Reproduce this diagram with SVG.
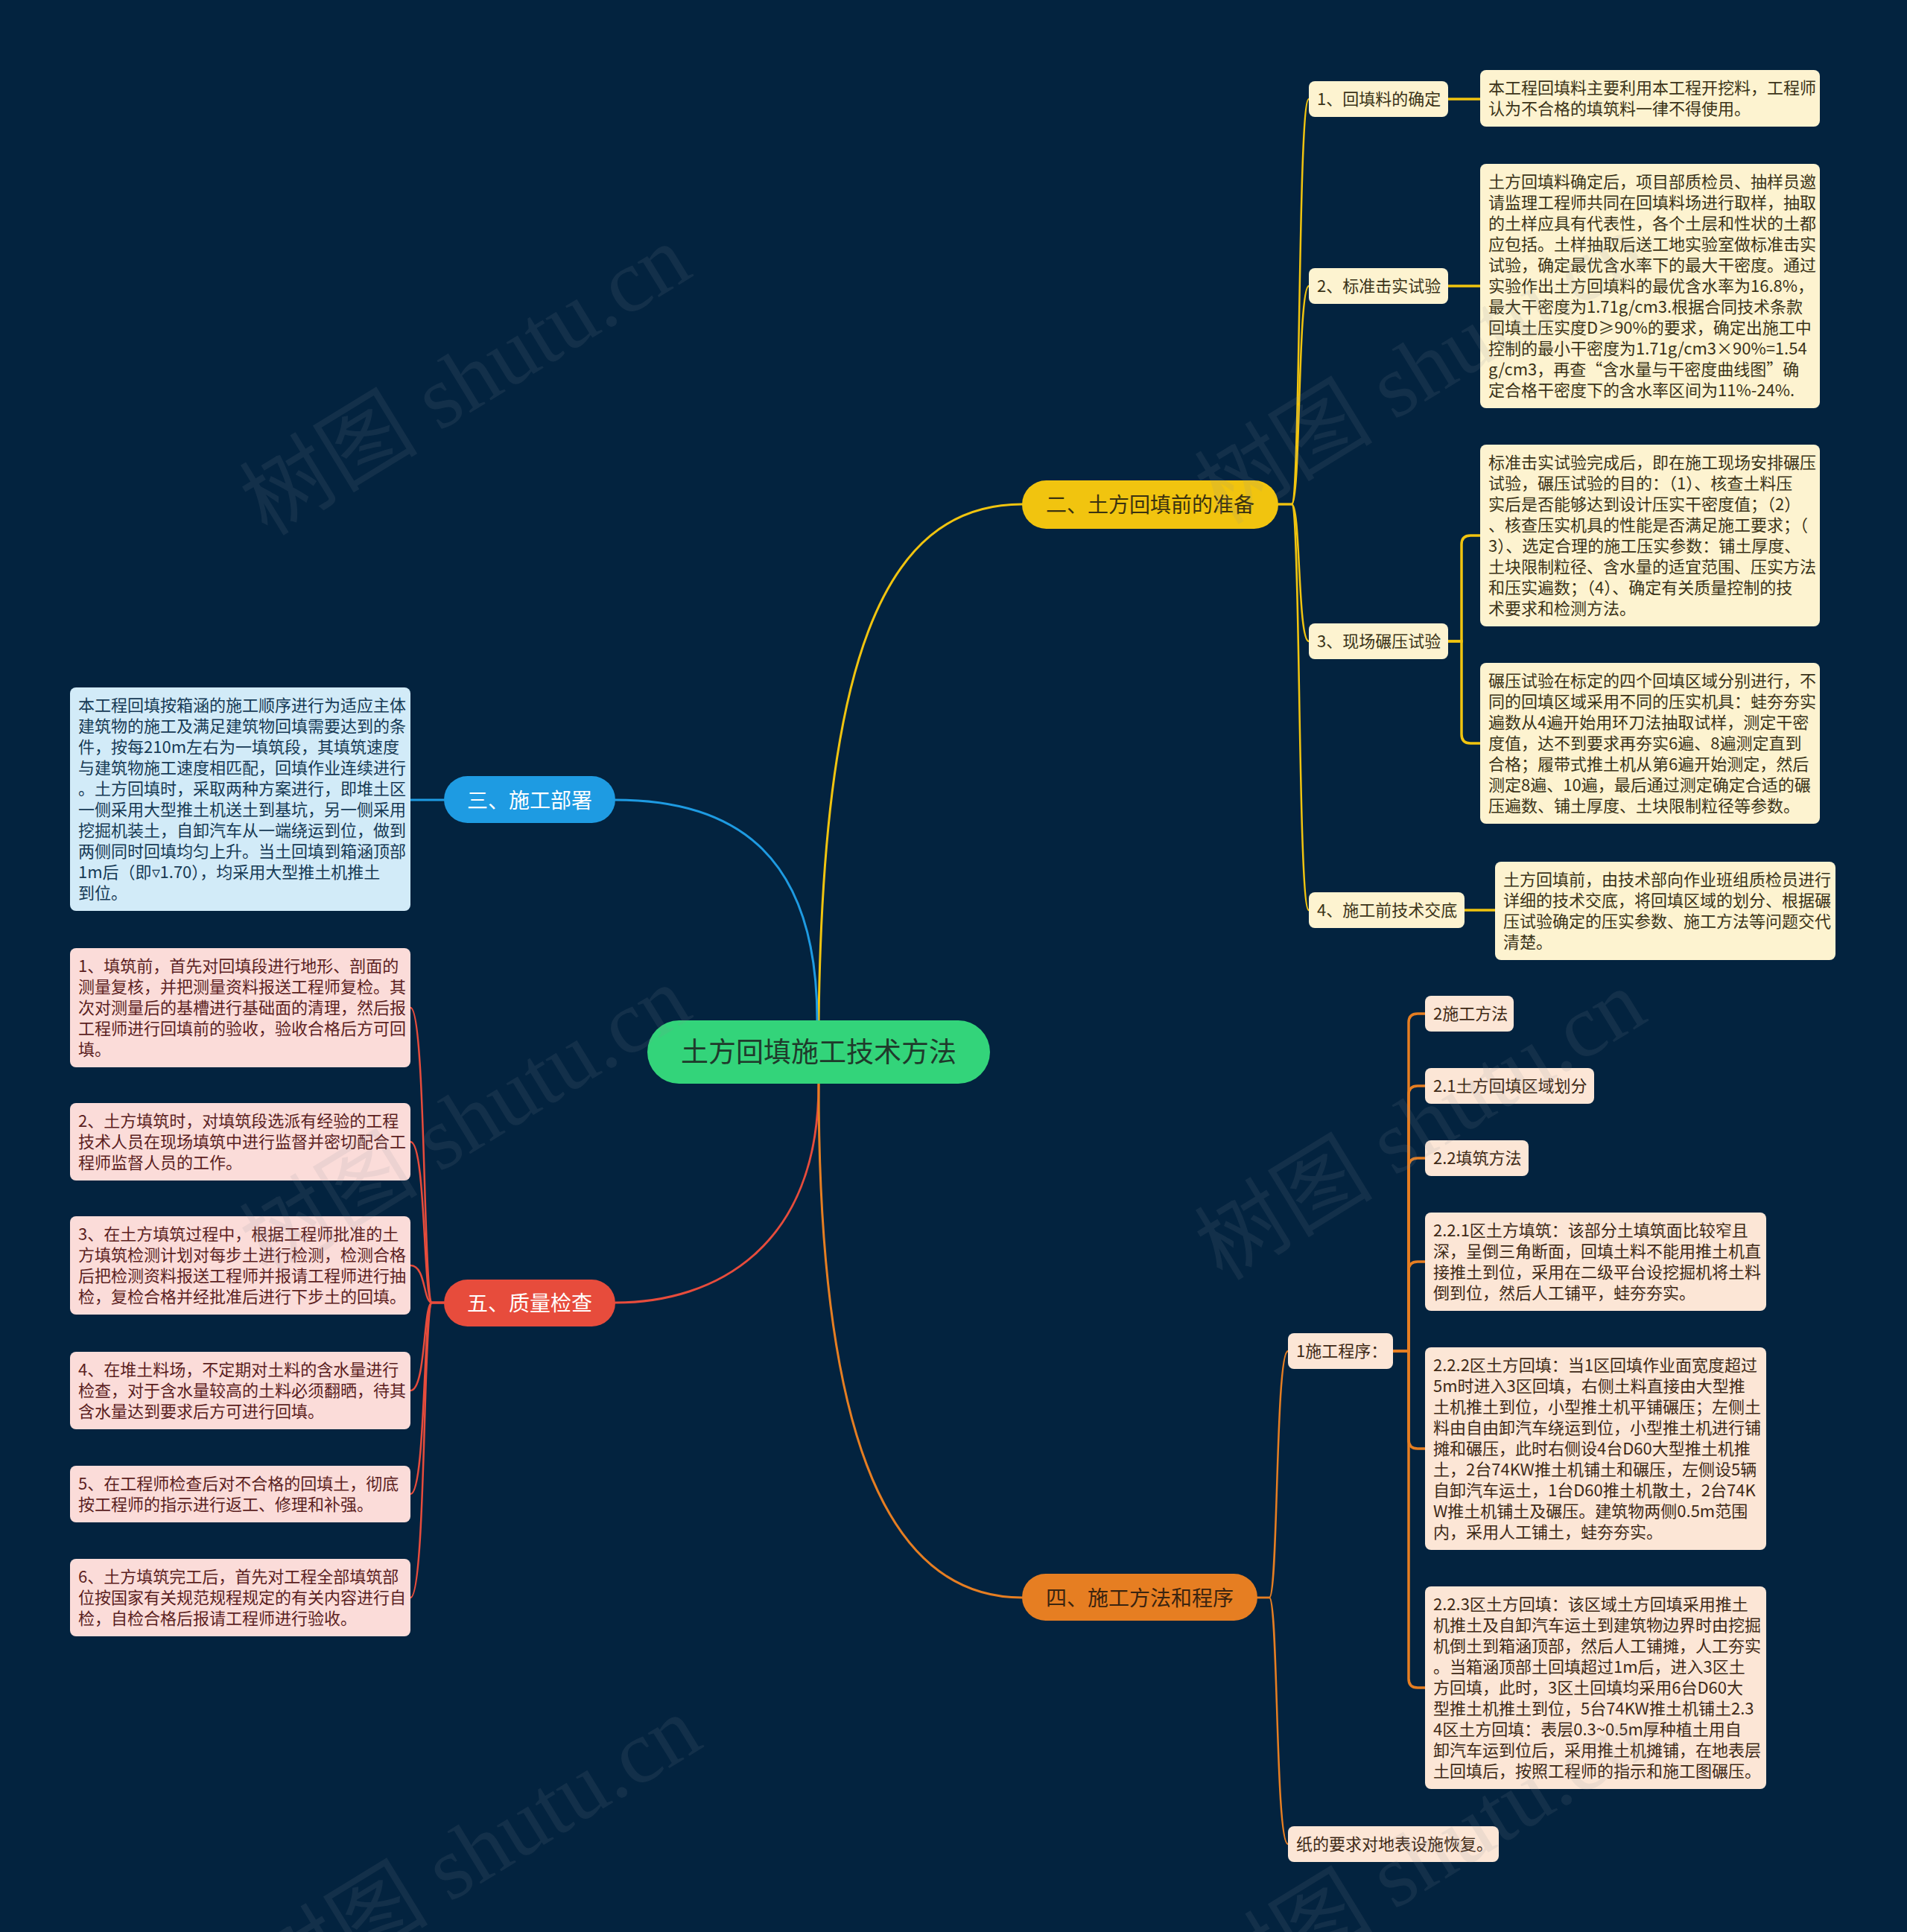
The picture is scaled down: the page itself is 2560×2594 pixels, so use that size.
<svg xmlns="http://www.w3.org/2000/svg" width="2560" height="2594" viewBox="0 0 2560 2594">
<style>
.bg{fill:#03233f}
.t{font-family:"Noto Sans CJK SC","Noto Sans",sans-serif;font-size:22px}
.pill{font-family:"Noto Sans CJK SC","Noto Sans",sans-serif;font-size:28px;text-anchor:middle}
.c{fill:none;stroke-linecap:round}
.main{stroke-width:3}
.bund{stroke-width:2.5}
.elb{stroke-width:3.5}
.y{stroke:#f1c40f}.o{stroke:#e67e22}.r{stroke:#e74c3c}.b{stroke:#1e9be2}
.by{fill:#fdf3d0}.ty{fill:#3b3318}
.bo{fill:#fce6d6}.to{fill:#3f2a17}
.br{fill:#fbdcd9}.tr{fill:#5b1f1f}
.bb{fill:#d2ebf8}.tb{fill:#163a55}
.wm{font-family:"Liberation Serif","Noto Sans CJK SC",serif;font-size:120px;fill:#8a8f99;opacity:0.12;text-anchor:middle}
</style>
<rect class="bg" x="0" y="0" width="2560" height="2594"/>

<g id="connectors">
  <path class="c main y" d="M1099 1370 C1105 900 1180 677 1372 677"/>
  <path class="c main b" d="M826 1074 C990 1074 1097 1150 1097 1370"/>
  <path class="c main r" d="M826 1749 C960 1749 1099 1675 1099 1455"/>
  <path class="c main o" d="M1099 1455 C1099 1900 1180 2145 1372 2145"/>

  <path class="c bund y" d="M1716 677 H1734 C1746 677 1742 133 1757 133"/>
  <path class="c bund y" d="M1716 677 H1734 C1746 677 1742 384 1757 384"/>
  <path class="c bund y" d="M1716 677 H1734 C1746 677 1742 861 1757 861"/>
  <path class="c bund y" d="M1716 677 H1734 C1746 677 1742 1222 1757 1222"/>

  <path class="c elb y" d="M1944 133 H1987"/>
  <path class="c elb y" d="M1944 384 H1987"/>
  <path class="c elb y" d="M1944 861 H1962 V731 Q1962 719 1974 719 H1987"/>
  <path class="c elb y" d="M1944 861 H1962 V986 Q1962 998 1974 998 H1987"/>
  <path class="c elb y" d="M1966 1222 H2007"/>

  <path class="c main b" d="M551 1074 H596"/>

  <path class="c bund r" d="M596 1749 H580 C568 1749 572 1353 551 1353"/>
  <path class="c bund r" d="M596 1749 H580 C568 1749 572 1533 551 1533"/>
  <path class="c bund r" d="M596 1749 H580 C568 1749 572 1699 551 1699"/>
  <path class="c bund r" d="M596 1749 H580 C568 1749 572 1867 551 1867"/>
  <path class="c bund r" d="M596 1749 H580 C568 1749 572 2006 551 2006"/>
  <path class="c bund r" d="M596 1749 H580 C568 1749 572 2145 551 2145"/>

  <path class="c bund o" d="M1688 2145 H1704 C1716 2145 1712 1814 1729 1814"/>
  <path class="c bund o" d="M1688 2145 H1704 C1716 2145 1712 2476 1729 2476"/>

  <path class="c elb o" d="M1870 1814 H1891 V1373 Q1891 1361 1903 1361 H1913"/>
  <path class="c elb o" d="M1870 1814 H1891 V1470 Q1891 1458 1903 1458 H1913"/>
  <path class="c elb o" d="M1870 1814 H1891 V1567 Q1891 1555 1903 1555 H1913"/>
  <path class="c elb o" d="M1870 1814 H1891 V1706 Q1891 1694 1903 1694 H1913"/>
  <path class="c elb o" d="M1870 1814 H1891 V1933 Q1891 1945 1903 1945 H1913"/>
  <path class="c elb o" d="M1870 1814 H1891 V2254 Q1891 2266 1903 2266 H1913"/>
</g>

<g id="root">
  <rect x="869" y="1370" width="460" height="85" rx="42.5" fill="#33d47a"/>
  <text class="pill" x="1099" y="1426" style="font-size:37px" fill="#1f3a2b">土方回填施工技术方法</text>
</g>

<g id="b2">
  <rect x="1372" y="645" width="344" height="65" rx="32.5" fill="#f1c40f"/>
  <text class="pill" x="1544" y="688" fill="#3a3210">二、土方回填前的准备</text>
</g>
<g id="b3">
  <rect x="596" y="1042" width="230" height="63" rx="31.5" fill="#1e9be2"/>
  <text class="pill" x="711" y="1085" fill="#ffffff">三、施工部署</text>
</g>
<g id="b5">
  <rect x="596" y="1718" width="230" height="63" rx="31.5" fill="#e74c3c"/>
  <text class="pill" x="711" y="1760" fill="#ffffff">五、质量检查</text>
</g>
<g id="b4">
  <rect x="1372" y="2113" width="316" height="63" rx="31.5" fill="#e67e22"/>
  <text class="pill" x="1530" y="2156" fill="#3a2410">四、施工方法和程序</text>
</g>

<g id="y1">
  <rect class="by" x="1757" y="109" width="187" height="48" rx="8"/>
  <text class="t ty" x="1768" y="141">1、回填料的确定</text>
</g>
<g id="y2">
  <rect class="by" x="1757" y="360" width="187" height="48" rx="8"/>
  <text class="t ty" x="1768" y="392">2、标准击实试验</text>
</g>
<g id="y3">
  <rect class="by" x="1757" y="837" width="187" height="48" rx="8"/>
  <text class="t ty" x="1768" y="869">3、现场碾压试验</text>
</g>
<g id="y4">
  <rect class="by" x="1757" y="1198" width="209" height="48" rx="8"/>
  <text class="t ty" x="1768" y="1230">4、施工前技术交底</text>
</g>

<g id="y1a">
  <rect class="by" x="1987" y="94" width="456" height="76" rx="8"/>
  <text class="t ty" x="1998" y="126"><tspan x="1998">本工程回填料主要利用本工程开挖料，工程师</tspan><tspan x="1998" dy="28">认为不合格的填筑料一律不得使用。</tspan></text>
</g>
<g id="y2a">
  <rect class="by" x="1987" y="220" width="456" height="328" rx="8"/>
  <text class="t ty" x="1998" y="252"><tspan x="1998">土方回填料确定后，项目部质检员、抽样员邀</tspan><tspan x="1998" dy="28">请监理工程师共同在回填料场进行取样，抽取</tspan><tspan x="1998" dy="28">的土样应具有代表性，各个土层和性状的土都</tspan><tspan x="1998" dy="28">应包括。土样抽取后送工地实验室做标准击实</tspan><tspan x="1998" dy="28">试验，确定最优含水率下的最大干密度。通过</tspan><tspan x="1998" dy="28">实验作出土方回填料的最优含水率为16.8%，</tspan><tspan x="1998" dy="28">最大干密度为1.71g/cm3.根据合同技术条款</tspan><tspan x="1998" dy="28">回填土压实度D≥90%的要求，确定出施工中</tspan><tspan x="1998" dy="28">控制的最小干密度为1.71g/cm3×90%=1.54</tspan><tspan x="1998" dy="28">g/cm3，再查“含水量与干密度曲线图”确</tspan><tspan x="1998" dy="28">定合格干密度下的含水率区间为11%-24%.</tspan></text>
</g>
<g id="y3a">
  <rect class="by" x="1987" y="597" width="456" height="244" rx="8"/>
  <text class="t ty" x="1998" y="629"><tspan x="1998">标准击实试验完成后，即在施工现场安排碾压</tspan><tspan x="1998" dy="28">试验，碾压试验的目的：（1）、核查土料压</tspan><tspan x="1998" dy="28">实后是否能够达到设计压实干密度值；（2）</tspan><tspan x="1998" dy="28">、核查压实机具的性能是否满足施工要求；（</tspan><tspan x="1998" dy="28">3）、选定合理的施工压实参数：铺土厚度、</tspan><tspan x="1998" dy="28">土块限制粒径、含水量的适宜范围、压实方法</tspan><tspan x="1998" dy="28">和压实遍数；（4）、确定有关质量控制的技</tspan><tspan x="1998" dy="28">术要求和检测方法。</tspan></text>
</g>
<g id="y3b">
  <rect class="by" x="1987" y="890" width="456" height="216" rx="8"/>
  <text class="t ty" x="1998" y="922"><tspan x="1998">碾压试验在标定的四个回填区域分别进行，不</tspan><tspan x="1998" dy="28">同的回填区域采用不同的压实机具：蛙夯夯实</tspan><tspan x="1998" dy="28">遍数从4遍开始用环刀法抽取试样，测定干密</tspan><tspan x="1998" dy="28">度值，达不到要求再夯实6遍、8遍测定直到</tspan><tspan x="1998" dy="28">合格；履带式推土机从第6遍开始测定，然后</tspan><tspan x="1998" dy="28">测定8遍、10遍，最后通过测定确定合适的碾</tspan><tspan x="1998" dy="28">压遍数、铺土厚度、土块限制粒径等参数。</tspan></text>
</g>
<g id="y4a">
  <rect class="by" x="2007" y="1157" width="457" height="132" rx="8"/>
  <text class="t ty" x="2018" y="1189"><tspan x="2018">土方回填前，由技术部向作业班组质检员进行</tspan><tspan x="2018" dy="28">详细的技术交底，将回填区域的划分、根据碾</tspan><tspan x="2018" dy="28">压试验确定的压实参数、施工方法等问题交代</tspan><tspan x="2018" dy="28">清楚。</tspan></text>
</g>

<g id="b3a">
  <rect class="bb" x="94" y="923" width="457" height="300" rx="8"/>
  <text class="t tb" x="105" y="955"><tspan x="105">本工程回填按箱涵的施工顺序进行为适应主体</tspan><tspan x="105" dy="28">建筑物的施工及满足建筑物回填需要达到的条</tspan><tspan x="105" dy="28">件，按每210m左右为一填筑段，其填筑速度</tspan><tspan x="105" dy="28">与建筑物施工速度相匹配，回填作业连续进行</tspan><tspan x="105" dy="28">。土方回填时，采取两种方案进行，即堆土区</tspan><tspan x="105" dy="28">一侧采用大型推土机送土到基坑，另一侧采用</tspan><tspan x="105" dy="28">挖掘机装土，自卸汽车从一端绕运到位，做到</tspan><tspan x="105" dy="28">两侧同时回填均匀上升。当土回填到箱涵顶部</tspan><tspan x="105" dy="28">1m后（即▿1.70），均采用大型推土机推土</tspan><tspan x="105" dy="28">到位。</tspan></text>
</g>

<g id="r1">
  <rect class="br" x="94" y="1273" width="457" height="160" rx="8"/>
  <text class="t tr" x="105" y="1305"><tspan x="105">1、填筑前，首先对回填段进行地形、剖面的</tspan><tspan x="105" dy="28">测量复核，并把测量资料报送工程师复检。其</tspan><tspan x="105" dy="28">次对测量后的基槽进行基础面的清理，然后报</tspan><tspan x="105" dy="28">工程师进行回填前的验收，验收合格后方可回</tspan><tspan x="105" dy="28">填。</tspan></text>
</g>
<g id="r2">
  <rect class="br" x="94" y="1481" width="457" height="104" rx="8"/>
  <text class="t tr" x="105" y="1513"><tspan x="105">2、土方填筑时，对填筑段选派有经验的工程</tspan><tspan x="105" dy="28">技术人员在现场填筑中进行监督并密切配合工</tspan><tspan x="105" dy="28">程师监督人员的工作。</tspan></text>
</g>
<g id="r3">
  <rect class="br" x="94" y="1633" width="457" height="132" rx="8"/>
  <text class="t tr" x="105" y="1665"><tspan x="105">3、在土方填筑过程中，根据工程师批准的土</tspan><tspan x="105" dy="28">方填筑检测计划对每步土进行检测，检测合格</tspan><tspan x="105" dy="28">后把检测资料报送工程师并报请工程师进行抽</tspan><tspan x="105" dy="28">检，复检合格并经批准后进行下步土的回填。</tspan></text>
</g>
<g id="r4">
  <rect class="br" x="94" y="1815" width="457" height="104" rx="8"/>
  <text class="t tr" x="105" y="1847"><tspan x="105">4、在堆土料场，不定期对土料的含水量进行</tspan><tspan x="105" dy="28">检查，对于含水量较高的土料必须翻晒，待其</tspan><tspan x="105" dy="28">含水量达到要求后方可进行回填。</tspan></text>
</g>
<g id="r5">
  <rect class="br" x="94" y="1968" width="457" height="76" rx="8"/>
  <text class="t tr" x="105" y="2000"><tspan x="105">5、在工程师检查后对不合格的回填土，彻底</tspan><tspan x="105" dy="28">按工程师的指示进行返工、修理和补强。</tspan></text>
</g>
<g id="r6">
  <rect class="br" x="94" y="2093" width="457" height="104" rx="8"/>
  <text class="t tr" x="105" y="2125"><tspan x="105">6、土方填筑完工后，首先对工程全部填筑部</tspan><tspan x="105" dy="28">位按国家有关规范规程规定的有关内容进行自</tspan><tspan x="105" dy="28">检，自检合格后报请工程师进行验收。</tspan></text>
</g>

<g id="o1">
  <rect class="bo" x="1729" y="1790" width="141" height="48" rx="8"/>
  <text class="t to" x="1740" y="1822">1施工程序：</text>
</g>
<g id="o2">
  <rect class="bo" x="1729" y="2452" width="283" height="48" rx="8"/>
  <text class="t to" x="1740" y="2484">纸的要求对地表设施恢复。</text>
</g>
<g id="o1a">
  <rect class="bo" x="1913" y="1337" width="119" height="48" rx="8"/>
  <text class="t to" x="1924" y="1369">2施工方法</text>
</g>
<g id="o1b">
  <rect class="bo" x="1913" y="1434" width="227" height="48" rx="8"/>
  <text class="t to" x="1924" y="1466">2.1土方回填区域划分</text>
</g>
<g id="o1c">
  <rect class="bo" x="1913" y="1531" width="139" height="48" rx="8"/>
  <text class="t to" x="1924" y="1563">2.2填筑方法</text>
</g>
<g id="o1d">
  <rect class="bo" x="1913" y="1628" width="458" height="132" rx="8"/>
  <text class="t to" x="1924" y="1660"><tspan x="1924">2.2.1区土方填筑：该部分土填筑面比较窄且</tspan><tspan x="1924" dy="28">深，呈倒三角断面，回填土料不能用推土机直</tspan><tspan x="1924" dy="28">接推土到位，采用在二级平台设挖掘机将土料</tspan><tspan x="1924" dy="28">倒到位，然后人工铺平，蛙夯夯实。</tspan></text>
</g>
<g id="o1e">
  <rect class="bo" x="1913" y="1809" width="458" height="272" rx="8"/>
  <text class="t to" x="1924" y="1841"><tspan x="1924">2.2.2区土方回填：当1区回填作业面宽度超过</tspan><tspan x="1924" dy="28">5m时进入3区回填，右侧土料直接由大型推</tspan><tspan x="1924" dy="28">土机推土到位，小型推土机平铺碾压；左侧土</tspan><tspan x="1924" dy="28">料由自由卸汽车绕运到位，小型推土机进行铺</tspan><tspan x="1924" dy="28">摊和碾压，此时右侧设4台D60大型推土机推</tspan><tspan x="1924" dy="28">土，2台74KW推土机铺土和碾压，左侧设5辆</tspan><tspan x="1924" dy="28">自卸汽车运土，1台D60推土机散土，2台74K</tspan><tspan x="1924" dy="28">W推土机铺土及碾压。建筑物两侧0.5m范围</tspan><tspan x="1924" dy="28">内，采用人工铺土，蛙夯夯实。</tspan></text>
</g>
<g id="o1f">
  <rect class="bo" x="1913" y="2130" width="458" height="272" rx="8"/>
  <text class="t to" x="1924" y="2162"><tspan x="1924">2.2.3区土方回填：该区域土方回填采用推土</tspan><tspan x="1924" dy="28">机推土及自卸汽车运土到建筑物边界时由挖掘</tspan><tspan x="1924" dy="28">机倒土到箱涵顶部，然后人工铺摊，人工夯实</tspan><tspan x="1924" dy="28">。当箱涵顶部土回填超过1m后，进入3区土</tspan><tspan x="1924" dy="28">方回填，此时，3区土回填均采用6台D60大</tspan><tspan x="1924" dy="28">型推土机推土到位，5台74KW推土机铺土2.3</tspan><tspan x="1924" dy="28">4区土方回填：表层0.3~0.5m厚种植土用自</tspan><tspan x="1924" dy="28">卸汽车运到位后，采用推土机摊铺，在地表层</tspan><tspan x="1924" dy="28">土回填后，按照工程师的指示和施工图碾压。</tspan></text>
</g>

<g id="watermark">
  <text class="wm" x="646" y="545" transform="rotate(-31.5 646 545)">树图 shutu.cn</text>
  <text class="wm" x="1928" y="530" transform="rotate(-31.5 1928 530)">树图 shutu.cn</text>
  <text class="wm" x="646" y="1540" transform="rotate(-31.5 646 1540)">树图 shutu.cn</text>
  <text class="wm" x="1928" y="1545" transform="rotate(-31.5 1928 1545)">树图 shutu.cn</text>
  <text class="wm" x="660" y="2520" transform="rotate(-31.5 660 2520)">树图 shutu.cn</text>
  <text class="wm" x="1928" y="2530" transform="rotate(-31.5 1928 2530)">树图 shutu.cn</text>
</g>
</svg>
